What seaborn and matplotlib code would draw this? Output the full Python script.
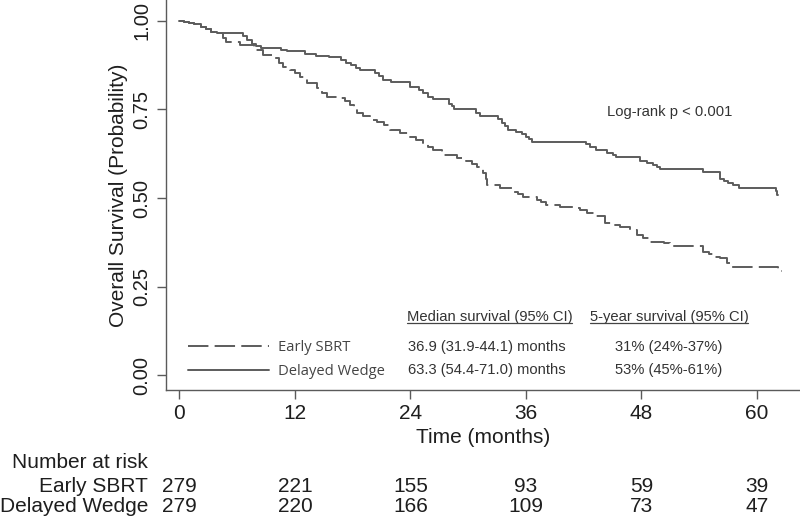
import numpy as np
import pandas as pd
import matplotlib
matplotlib.use("Agg")
import matplotlib.pyplot as plt
import seaborn as sns
from matplotlib.transforms import blended_transform_factory
from matplotlib.lines import Line2D
from matplotlib.font_manager import FontProperties

# ---------------- data ----------------
groups = ["Early SBRT", "Delayed Wedge"]

sbrt_time = [0, 0.5, 1.0, 1.5, 2.2, 2.8, 3.3, 3.9, 4.5, 4.8, 6.3, 7.7, 8.7, 9.7, 10.3,
             10.8, 11.5, 12.0, 12.5, 13.2, 14.3, 14.8, 15.3, 16.7, 17.2, 17.7, 18.1,
             18.4, 19.1, 19.8, 20.5, 21.2, 21.9, 22.9, 24.0, 24.6, 25.3, 25.8, 26.3,
             27.3, 28.8, 29.8, 30.4, 30.9, 31.5, 31.8, 32.0, 33.3, 34.7, 35.2, 35.7,
             37.1, 37.6, 38.1, 39.5, 41.0, 41.6, 42.3, 43.3, 44.2, 45.0, 45.8, 46.8,
             47.5, 48.2, 48.9, 50.3, 51.0, 54.4, 55.0, 55.5, 56.2, 56.9, 57.2, 62.2, 62.6]
sbrt_surv = [1.0, 0.996, 0.993, 0.989, 0.982, 0.975, 0.968, 0.964, 0.950, 0.941, 0.932,
             0.917, 0.903, 0.894, 0.880, 0.870, 0.861, 0.851, 0.842, 0.824, 0.809, 0.797,
             0.786, 0.781, 0.772, 0.762, 0.750, 0.739, 0.730, 0.720, 0.713, 0.706, 0.692,
             0.683, 0.673, 0.664, 0.654, 0.645, 0.636, 0.621, 0.612, 0.603, 0.595, 0.588,
             0.570, 0.553, 0.537, 0.528, 0.518, 0.511, 0.504, 0.495, 0.488, 0.481, 0.476,
             0.471, 0.466, 0.457, 0.448, 0.431, 0.424, 0.418, 0.410, 0.396, 0.387, 0.377,
             0.373, 0.365, 0.349, 0.342, 0.335, 0.330, 0.318, 0.307, 0.293, 0.293]

wedge_time = [0, 0.5, 1.0, 1.5, 2.2, 2.8, 3.3, 3.9, 6.6, 7.0, 7.5, 8.0, 8.5, 10.5, 11.2,
              13.0, 14.2, 15.5, 16.8, 17.3, 17.8, 18.3, 18.8, 20.3, 20.7, 21.1, 22.0,
              24.0, 24.9, 25.3, 25.8, 26.3, 28.0, 28.3, 28.5, 30.8, 31.2, 33.1, 33.5,
              33.8, 34.1, 35.0, 35.6, 36.0, 36.3, 36.6, 42.2, 42.7, 43.3, 44.4, 45.0,
              45.4, 47.8, 48.6, 49.2, 49.6, 49.9, 54.4, 56.2, 56.6, 57.0, 57.5, 58.1,
              62.0, 62.1, 62.2]
wedge_surv = [1.0, 0.996, 0.993, 0.989, 0.982, 0.975, 0.968, 0.964, 0.957, 0.946, 0.935,
              0.928, 0.922, 0.917, 0.913, 0.906, 0.901, 0.896, 0.889, 0.881, 0.874, 0.867,
              0.861, 0.852, 0.843, 0.833, 0.826, 0.814, 0.805, 0.795, 0.786, 0.778, 0.766,
              0.758, 0.750, 0.740, 0.731, 0.722, 0.712, 0.702, 0.692, 0.687, 0.680, 0.673,
              0.666, 0.659, 0.652, 0.645, 0.636, 0.626, 0.620, 0.615, 0.603, 0.598, 0.593,
              0.587, 0.581, 0.572, 0.553, 0.548, 0.542, 0.536, 0.529, 0.519, 0.509, 0.509]

risk_times = [0, 12, 24, 36, 48, 60]
risk_sbrt = [279, 221, 155, 93, 59, 39]
risk_wedge = [279, 220, 166, 109, 73, 47]

median_text = ["36.9 (31.9-44.1) months", "63.3 (54.4-71.0) months"]
fiveyr_text = ["31% (24%-37%)", "53% (45%-61%)"]

x_ticks = [0, 12, 24, 36, 48, 60]
x_ticklabels = ["0", "12", "24", "36", "48", "60"]
y_ticks = [0.0, 0.25, 0.50, 0.75, 1.00]
y_ticklabels = ["0.00", "0.25", "0.50", "0.75", "1.00"]

# ---------------- style ----------------
sns.set_style("ticks")
plt.rcParams["font.family"] = ["Liberation Sans", "DejaVu Sans"]
LINE = "#5c5c5c"
AX = "#5a5a5a"
TXT = "#1e1e1e"
BIG = 15

fig = plt.figure(figsize=(8, 5.23), dpi=100)
ax = fig.add_axes([166 / 800, 1 - 390 / 523, 634 / 800, 390 / 523])

df = pd.concat([
    pd.DataFrame({"time": sbrt_time, "surv": sbrt_surv, "group": groups[0]}),
    pd.DataFrame({"time": wedge_time, "surv": wedge_surv, "group": groups[1]}),
], ignore_index=True)

sns.lineplot(data=df, x="time", y="surv", style="group", style_order=groups,
             dashes={groups[0]: (10.5, 3.2), groups[1]: ""}, color=LINE, lw=1.4,
             drawstyle="steps-post", estimator=None, sort=False, legend=False, ax=ax)

ax.set_xlim(-1.4, 64.47)
ax.set_ylim(-0.041, 1.058)
ax.set_xticks(x_ticks)
ax.set_xticklabels(x_ticklabels)
ax.set_yticks(y_ticks)
ax.set_yticklabels(y_ticklabels, rotation=90, va="center")
ax.tick_params(axis="both", direction="out", length=6.5, width=1.0, color=AX, labelcolor=TXT)
ax.tick_params(axis="y", labelsize=14.5, pad=4)
ax.tick_params(axis="x", labelsize=BIG, pad=3.5)
sns.despine(ax=ax)
for s in ("left", "bottom"):
    ax.spines[s].set_color(AX)
    ax.spines[s].set_linewidth(1.0)
ax.set_xlabel("Time (months)", fontsize=BIG, color=TXT, labelpad=4)
ax.set_ylabel("Overall Survival (Probability)", fontsize=BIG, color=TXT, labelpad=3)

# legend
solid = [l for l in ax.lines if l.get_linestyle() == "-"][0]
dashed = [l for l in ax.lines if l.get_linestyle() != "-"][0]
leg = ax.legend(handles=[dashed, solid], labels=groups, loc="center left",
                bbox_to_anchor=(0.0347, 0.0785), frameon=False, borderpad=0,
                borderaxespad=0, handlelength=5.5, handletextpad=0.62,
                labelspacing=0.6, prop=FontProperties(family="Open Sans", size=10.6))
for t in leg.get_texts():
    t.set_color("#444444")

# annotations
ax.text(44.4, 0.743, "Log-rank p < 0.001", fontsize=10.6, color="#333333",
        ha="left", va="center")
hdr1 = ax.text(23.6, 0.165, "Median survival (95% CI)", fontsize=10.6, color="#333333",
               ha="left", va="center")
hdr2 = ax.text(42.6, 0.165, "5-year survival (95% CI)", fontsize=10.6, color="#333333",
               ha="left", va="center")
row_y = [0.080, 0.0155]
for i in range(2):
    ax.text(23.7, row_y[i], median_text[i], fontsize=10.6, color="#333333", ha="left", va="center")
    ax.text(45.2, row_y[i], fiveyr_text[i], fontsize=10.6, color="#333333", ha="left", va="center")

# risk table
tr = blended_transform_factory(ax.transData, fig.transFigure)
fig.text(0.015, 1 - 462 / 523, "Number at risk", fontsize=BIG, color=TXT, ha="left", va="center")
fig.text(148 / 800, 1 - 487 / 523, groups[0], fontsize=BIG, color=TXT, ha="right", va="center")
fig.text(148 / 800, 1 - 506 / 523, groups[1], fontsize=BIG, color=TXT, ha="right", va="center")
for t, a, b in zip(risk_times, risk_sbrt, risk_wedge):
    ax.text(t, 1 - 487 / 523, str(a), transform=tr, fontsize=BIG, color=TXT,
            ha="center", va="center", clip_on=False)
    ax.text(t, 1 - 506 / 523, str(b), transform=tr, fontsize=BIG, color=TXT,
            ha="center", va="center", clip_on=False)

# underline headers
fig.canvas.draw()
r = fig.canvas.get_renderer()
for h in (hdr1, hdr2):
    bb = h.get_window_extent(r)
    y = bb.y0 + 1
    fig.add_artist(Line2D([bb.x0, bb.x1], [y, y], transform=None, color="#444444", lw=0.9))

fig.savefig("out.png", dpi=100)
